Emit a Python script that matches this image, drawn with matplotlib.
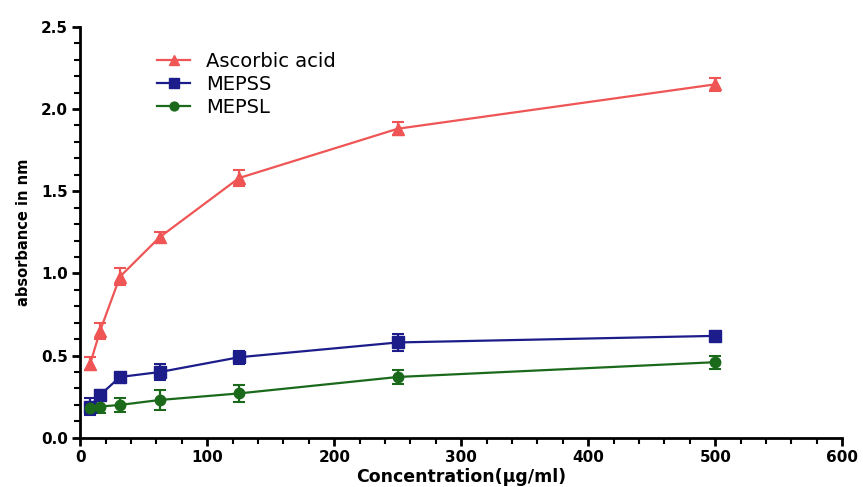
import numpy as np
import matplotlib.pyplot as plt
from matplotlib.ticker import MultipleLocator

plt.rcParams['font.family'] = ['DejaVu Sans']

# concentrations (ug/ml)
conc = [7.8, 15.6, 31.25, 62.5, 125, 250, 500]

ascorbic = [0.45, 0.65, 0.98, 1.22, 1.58, 1.88, 2.15]
ascorbic_err = [0.04, 0.05, 0.05, 0.03, 0.05, 0.04, 0.04]

mepss = [0.19, 0.26, 0.37, 0.40, 0.49, 0.58, 0.62]
mepss_err = [0.05, 0.03, 0.02, 0.05, 0.04, 0.05, 0.02]

mepsl = [0.18, 0.19, 0.20, 0.23, 0.27, 0.37, 0.46]
mepsl_err = [0.03, 0.04, 0.04, 0.06, 0.05, 0.04, 0.04]

fig = plt.figure(figsize=(8.63, 4.87), dpi=100)
ax = fig.add_axes([0.093, 0.101, 0.883, 0.844])

series = [
    (ascorbic, ascorbic_err, "#ef5555", "^", 8, "Ascorbic acid"),
    (mepss, mepss_err, "#1c1c8a", "s", 8.5, "MEPSS"),
    (mepsl, mepsl_err, "#1b6a1b", "o", 7.5, "MEPSL"),
]
handles = []
for vals, errs, col, mk, ms, name in series:
    cont = ax.errorbar(conc, vals, yerr=errs, color=col, marker=mk,
                       markersize=ms, linewidth=1.6, capsize=4.5, capthick=1.5,
                       elinewidth=1.6, label=name)
    handles.append(cont[0])

ax.set_xlim(0, 600)
ax.set_ylim(0, 2.5)
ax.xaxis.set_major_locator(MultipleLocator(100))
ax.xaxis.set_minor_locator(MultipleLocator(20))
ax.yaxis.set_major_locator(MultipleLocator(0.5))
ax.yaxis.set_minor_locator(MultipleLocator(0.1))
ax.yaxis.set_major_formatter(plt.FormatStrFormatter("%.1f"))

ax.spines["top"].set_visible(False)
ax.spines["right"].set_visible(False)
ax.spines["left"].set_linewidth(2)
ax.spines["bottom"].set_linewidth(2)
ax.tick_params(which="major", length=6, width=2, labelsize=11, pad=3)
ax.tick_params(which="minor", length=4, width=1.5)
for lbl in ax.get_xticklabels() + ax.get_yticklabels():
    lbl.set_fontweight("bold")

ax.set_xlabel("Concentration(µg/ml)", fontsize=12.5, fontweight="bold", labelpad=2)
ax.set_ylabel("absorbance in nm", fontsize=10.5, fontweight="bold", labelpad=7)

leg = ax.legend(handles, [s[5] for s in series], loc="upper left",
                bbox_to_anchor=(0.078, 0.982), frameon=False,
                fontsize=14, handlelength=1.7, labelspacing=0.22,
                handletextpad=0.8, markerscale=0.85)

plt.savefig("out.png", dpi=100)
